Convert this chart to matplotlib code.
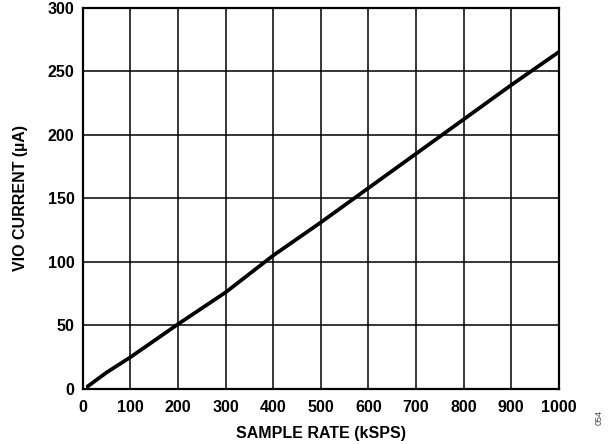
import matplotlib
matplotlib.use("Agg")
import matplotlib.pyplot as plt

sample_rate = [10, 50, 100, 200, 300, 400, 500, 600, 700, 800, 900, 1000]
vio_current = [2, 13, 25, 51, 76, 105, 131, 158, 185, 212, 239, 265]
x_ticks = [0, 100, 200, 300, 400, 500, 600, 700, 800, 900, 1000]
y_ticks = [0, 50, 100, 150, 200, 250, 300]

plt.rcParams['font.family'] = ['Liberation Sans', 'DejaVu Sans']
fig = plt.figure(figsize=(6.14, 4.44), dpi=100)
ax = fig.add_axes([0.135, 0.124, 0.775, 0.859])
ax.plot(sample_rate, vio_current, color='black', lw=2.7, solid_capstyle='round', zorder=3)
ax.set_xlim(0, 1000)
ax.set_ylim(0, 300)
ax.set_xticks(x_ticks)
ax.set_yticks(y_ticks)
ax.grid(True, color='black', lw=1.1)
for s in ax.spines.values():
    s.set_linewidth(1.6)
ax.tick_params(axis='x', length=0, pad=8, labelsize=11.5)
ax.tick_params(axis='y', length=0, pad=6, labelsize=11.5)
for lab in ax.get_xticklabels() + ax.get_yticklabels():
    lab.set_fontweight('bold')
ax.set_xlabel('SAMPLE RATE (kSPS)', fontsize=11.5, fontweight='bold', labelpad=8)
ax.set_ylabel('VIO CURRENT (µA)', fontsize=11.5, fontweight='bold', labelpad=14)
fig.text(0.975, 0.06, '054', rotation=90, fontsize=6.5, color='#444444', ha='center', va='center')
fig.savefig('out.png', dpi=100)
